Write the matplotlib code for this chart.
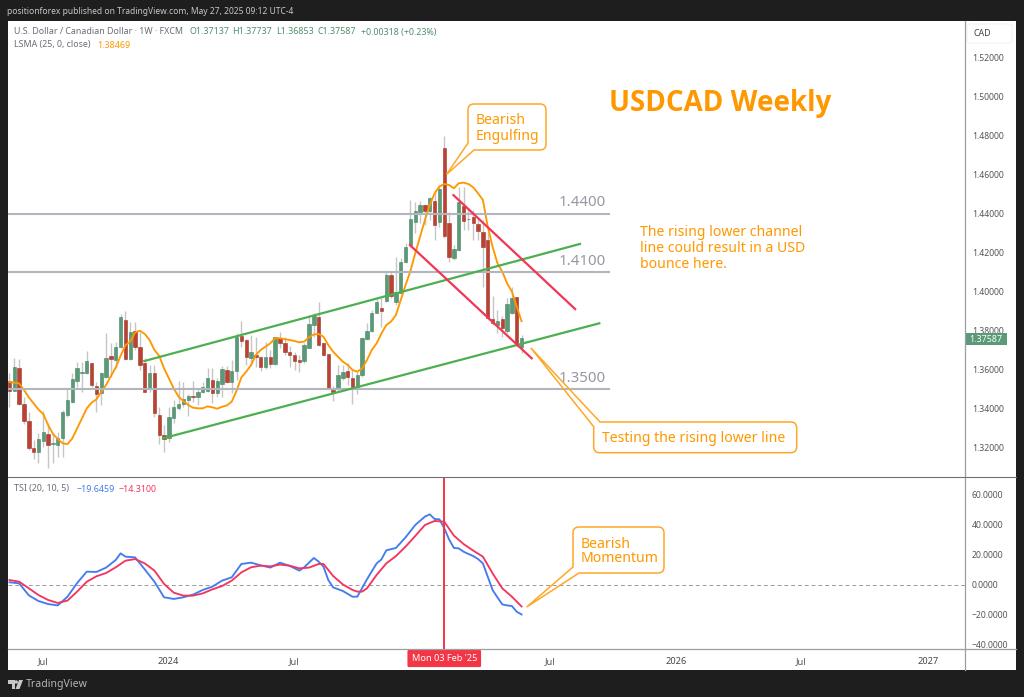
import matplotlib
matplotlib.use('Agg')
import matplotlib.pyplot as plt
from matplotlib.patches import PathPatch, Rectangle, FancyBboxPatch, Polygon, Circle
from matplotlib.path import Path

plt.rcParams['font.family'] = ['Noto Sans', 'DejaVu Sans']

#%% Weekly candles
opens = [1.3537,1.3489,1.3604,1.3419,1.3334,1.3195,1.3176,1.3232,1.3267,1.3214,
         1.3212,1.3248,1.3364,1.3429,1.3541,1.3582,1.3578,1.3630,1.3515,1.3476,
         1.3560,1.3668,1.3647,1.3712,1.3853,1.3650,1.3795,1.3714,1.3633,1.3501,
         1.3578,1.3366,1.3263,1.3244,1.3351,1.3400,1.3419,1.3441,1.3462,1.3459,
         1.3483,1.3489,1.3546,1.3479,1.3524,1.3596,1.3534,1.3589,1.3772,1.3750,
         1.3656,1.3673,1.3661,1.3610,1.3664,1.3627,1.3759,1.3733,1.3690,1.3671,
         1.3647,1.3642,1.3709,1.3829,1.3870,1.3733,1.3678,1.3491,1.3502,1.3555,
         1.3592,1.3553,1.3507,1.3570,1.3754,1.3798,1.3891,1.3915,1.3952,1.4084,
         1.3948,1.3994,1.4151,1.4239,1.4357,1.4410,1.4445,1.4415,1.4467,1.4359,
         1.4736,1.4354,1.4170,1.4213,1.4439,1.4374,1.4385,1.4347,1.4307,1.4265,
         1.3857,1.3828,1.3858,1.3797,1.3888,1.3970,1.37137]
highs = [1.3578,1.3656,1.3650,1.3459,1.3382,1.3236,1.3270,1.3387,1.3322,1.3270,
         1.3279,1.3390,1.3496,1.3578,1.3639,1.3639,1.3695,1.3633,1.3536,1.3587,
         1.3784,1.3733,1.3741,1.3884,1.3901,1.3844,1.3844,1.3793,1.3656,1.3621,
         1.3621,1.3407,1.3313,1.3407,1.3441,1.3541,1.3536,1.3472,1.3541,1.3501,
         1.3536,1.3604,1.3604,1.3553,1.3616,1.3616,1.3647,1.3784,1.3848,1.3753,
         1.3776,1.3767,1.3668,1.3742,1.3699,1.3767,1.3793,1.3767,1.3719,1.3690,
         1.3673,1.3733,1.3879,1.3887,1.3947,1.3742,1.3680,1.3514,1.3622,1.3622,
         1.3630,1.3596,1.3587,1.3767,1.3836,1.3904,1.3959,1.3964,1.4100,1.4100,
         1.4179,1.4170,1.4247,1.4470,1.4462,1.4467,1.4450,1.4487,1.4522,1.4547,
         1.4799,1.4410,1.4239,1.4539,1.4539,1.4427,1.4419,1.4376,1.4367,1.4299,
         1.3978,1.3905,1.3871,1.3965,1.4025,1.3973,1.37737]
lows = [1.3407,1.3489,1.3416,1.3318,1.3184,1.3136,1.3116,1.3202,1.3090,1.3116,
        1.3150,1.3150,1.3356,1.3424,1.3510,1.3484,1.3575,1.3507,1.3382,1.3416,
        1.3553,1.3561,1.3604,1.3707,1.3647,1.3647,1.3699,1.3596,1.3484,1.3484,
        1.3356,1.3215,1.3176,1.3227,1.3322,1.3390,1.3407,1.3359,1.3433,1.3416,
        1.3476,1.3484,1.3424,1.3459,1.3459,1.3527,1.3476,1.3544,1.3716,1.3621,
        1.3621,1.3613,1.3592,1.3599,1.3604,1.3622,1.3707,1.3673,1.3613,1.3596,
        1.3584,1.3630,1.3707,1.3767,1.3719,1.3668,1.3500,1.3438,1.3484,1.3544,
        1.3519,1.3421,1.3473,1.3562,1.3750,1.3793,1.3887,1.3819,1.3946,1.3966,
        1.3930,1.3990,1.4148,1.4230,1.4299,1.4350,1.4342,1.4367,1.4265,1.4333,
        1.4273,1.4153,1.4162,1.4210,1.4316,1.4316,1.4265,1.4265,1.4025,1.3853,
        1.3828,1.3785,1.3768,1.3785,1.3884,1.3716,1.36853]
closes = [1.3489,1.3609,1.3421,1.3334,1.3193,1.3176,1.3239,1.3277,1.3212,1.3222,
          1.3248,1.3380,1.3441,1.3549,1.3606,1.3587,1.3640,1.3519,1.3474,1.3578,
          1.3656,1.3654,1.3714,1.3868,1.3650,1.3789,1.3712,1.3621,1.3484,1.3578,
          1.3373,1.3262,1.3243,1.3354,1.3404,1.3421,1.3445,1.3462,1.3459,1.3483,
          1.3507,1.3555,1.3479,1.3537,1.3603,1.3534,1.3589,1.3767,1.3747,1.3664,
          1.3687,1.3663,1.3610,1.3661,1.3627,1.3764,1.3733,1.3690,1.3675,1.3640,
          1.3635,1.3726,1.3832,1.3874,1.3724,1.3673,1.3502,1.3483,1.3570,1.3584,
          1.3562,1.3510,1.3570,1.3759,1.3796,1.3891,1.3946,1.3901,1.4084,1.3975,
          1.3999,1.4153,1.4230,1.4371,1.4412,1.4445,1.4415,1.4479,1.4342,1.4525,
          1.4285,1.4179,1.4217,1.4460,1.4364,1.4371,1.4350,1.4313,1.4227,1.3862,
          1.3836,1.3850,1.3810,1.3934,1.3965,1.3725,1.37587]

#%% LSMA
lsma = [1.3534,1.3531,1.3527,1.3493,1.3455,1.3424,1.3393,1.3369,1.3313,1.3267,
        1.3241,1.3219,1.3215,1.3244,1.3296,1.3347,1.3399,1.3428,1.3445,1.3484,
        1.3519,1.3565,1.3609,1.3669,1.3724,1.3741,1.3789,1.3798,1.3781,1.3750,
        1.3699,1.3668,1.3604,1.3553,1.3501,1.3459,1.3436,1.3416,1.3402,1.3399,
        1.3399,1.3409,1.3404,1.3397,1.3407,1.3414,1.3433,1.3489,1.3558,1.3587,
        1.3621,1.3673,1.3699,1.3716,1.3733,1.3759,1.3759,1.3754,1.3750,1.3745,
        1.3738,1.3742,1.3764,1.3779,1.3781,1.3767,1.3724,1.3690,1.3664,1.3639,
        1.3622,1.3596,1.3587,1.3604,1.3647,1.3699,1.3733,1.3784,1.3827,1.3845,
        1.3879,1.3956,1.4033,1.4105,1.4196,1.4282,1.4367,1.4444,1.4504,1.4539,
        1.4552,1.4547,1.4530,1.4556,1.4559,1.4552,1.4535,1.4504,1.4470,1.4333,
        1.4230,1.4145,1.4102,1.4042,1.3999,1.3922,1.38469]

#%% TSI and signal
tsi_week = [0,2,4,6,8,10,12,14,16,18,20,22,23,24,26,28,30,32,34,36,38,40,42,44,46,48,50,52,54,56,58,60,
            61,62,63,64,65,66,67,69,71,72,74,76,77,78,80,82,84,86,87,88,89,90,91,92,93,94,95,96,97,98,
            99,100,101,102,103,104,105,106]
tsi_vals = [1.8,1.1,-6.9,-10.7,-12.7,-13.6,-7.8,1.3,8.9,8.7,11.6,16.7,21.1,18.9,18.4,10.4,2.2,-8.2,-9.3,-8.2,
            -6.4,-3.3,-1.1,2.9,5.1,14.0,14.9,13.1,11.6,14.9,12.7,9.6,
            11.8,14.9,18.0,15.6,12.2,3.3,-1.6,-4.0,-7.8,-7.8,3.8,14.4,17.1,23.1,24.7,31.8,40.0,45.6,47.1,44.0,
            43.8,37.8,30.4,24.7,24.4,22.2,20.7,19.3,17.3,14.4,5.6,-3.3,-8.2,-12.9,-13.6,-14.0,-17.8,-19.65]
sig_week = [0,2,4,6,8,10,12,14,16,18,20,22,24,26,28,30,32,34,36,38,40,42,44,46,48,50,52,54,56,58,60,
            62,64,65,66,67,69,71,72,73,74,76,78,80,82,84,86,88,90,92,94,96,98,100,102,104,106]
sig_vals = [3.3,2.2,-2.2,-6.7,-10.0,-12.0,-10.4,-4.4,2.2,5.8,8.0,11.8,16.2,17.3,14.4,9.6,0.7,-5.1,-7.1,-7.1,
            -5.6,-2.9,-0.7,2.9,8.4,11.8,12.9,12.4,13.6,12.9,11.1,
            11.6,14.0,14.0,10.0,6.0,0.4,-3.3,-4.4,-4.4,-2.2,6.7,14.4,19.3,25.6,32.7,40.0,42.7,42.2,32.9,27.3,
            22.9,18.9,7.8,-2.2,-7.8,-14.31]

#%% Drawn levels and trend lines
levels = [1.44, 1.41, 1.35]
level_names = ['1.4400', '1.4100', '1.3500']
level_end = 124.1
green_upper = ([27.9, 118.1], [1.3642, 1.4244])
green_lower = ([31.8, 122.1], [1.3245, 1.3836])
red_lower = ([82.9, 108.1], [1.4238, 1.3656])
red_upper = ([91.9, 117.1], [1.4495, 1.3909])

price_ticks = [1.32,1.34,1.36,1.38,1.40,1.42,1.44,1.46,1.48,1.50,1.52]
tsi_ticks = [-40,-20,0,20,40,60]
time_ticks = [6.94,32.8,58.9,111.9,138.0,163.9,190.2]
time_labels = ['Jul','2024','Jul','Jul','2026','Jul','2027']
cross_week = 90

orange = '#ff9800'
grey_txt = '#6a6d78'
up_col = '#5b9a78'
up_edge = '#46835f'
dn_col = '#bb4233'
dn_edge = '#a03427'
W, H = 1024, 697

fig = plt.figure(figsize=(W/100, H/100), dpi=100, facecolor='#1e1e1e')

def px_axes(x0, y0, x1, y1):
    return fig.add_axes([x0/W, 1-y1/H, (x1-x0)/W, (y1-y0)/H])

# white panel behind everything
fig.patches.append(Rectangle((8/W, 1-670/H), 1008/W, 649/H, transform=fig.transFigure, facecolor='white', edgecolor='none', zorder=-1))

ax = px_axes(8, 21, 965, 476)
ax2 = px_axes(8, 477, 965, 649)
for a in (ax, ax2):
    a.patch.set_alpha(0)
    for s in a.spines.values():
        s.set_visible(False)
    a.set_xlim(-0.31, 197.8)
    a.yaxis.tick_right()
    a.tick_params(axis='y', length=0, pad=5, labelsize=6.2, labelcolor='#555555')

#%% Price pane
ax.set_ylim(1.3051, 1.5390)
ax.set_yticks(price_ticks)
ax.set_yticklabels(['%.5f' % p for p in price_ticks])
ax.set_xticks([])

weeks = list(range(len(opens)))
body_col = [up_col if c >= o else dn_col for o, c in zip(opens, closes)]
edge_col = [up_edge if c >= o else dn_edge for o, c in zip(opens, closes)]
ax.vlines(weeks, lows, highs, color='#c6c6c6', lw=1.0, zorder=2)
ax.bar(weeks, [abs(c-o) for o, c in zip(opens, closes)], bottom=[min(o, c) for o, c in zip(opens, closes)],
       width=0.7, color=body_col, edgecolor=edge_col, lw=0.4, zorder=3)
ax.plot(weeks, lsma, color=orange, lw=1.35, zorder=4)

for lev, name in zip(levels, level_names):
    ax.plot([-0.31, level_end], [lev, lev], color='#b2b5be', lw=1.5, zorder=5)
    ax.text(113.7, lev+0.0016, name, color='#9598a1', fontsize=10.8, va='bottom', ha='left')

for tl in (green_upper, green_lower):
    ax.plot(tl[0], tl[1], color='#4caf50', lw=1.6, zorder=6)
for tl in (red_lower, red_upper):
    ax.plot(tl[0], tl[1], color='#f23654', lw=1.6, zorder=6)

#%% TSI pane
ax2.set_ylim(-42.67, 72)
ax2.set_yticks(tsi_ticks)
ax2.set_yticklabels([('%.4f' % t).replace('-', '\u2212') for t in tsi_ticks])
ax2.axhline(0, color='#9a9a9a', lw=0.7, ls=(0, (4, 3)))
ax2.plot(tsi_week, tsi_vals, color='#447cf0', lw=1.35, zorder=3)
ax2.plot(sig_week, sig_vals, color='#f23660', lw=1.35, zorder=4)
ax2.axvline(cross_week, color='#f23645', lw=1.4, zorder=5)
ax2.set_xticks(time_ticks)
ax2.set_xticklabels(time_labels)
ax2.tick_params(axis='x', length=0, pad=5.5, labelsize=6.6, labelcolor='#555555')
for lab in ax2.get_xticklabels():
    if lab.get_text().startswith('20'):
        lab.set_fontweight('bold')
        lab.set_color('#444444')
ax2.text(cross_week, -0.055, "Mon 03 Feb '25", transform=ax2.get_xaxis_transform(), color='white', fontsize=6.6,
         ha='center', va='center', bbox=dict(boxstyle='round,pad=0.45,rounding_size=0.15', fc='#f23645', ec='none'), zorder=8)

#%% Overlay in pixels for panel lines, notes and header text
ov = fig.add_axes([0, 0, 1, 1], zorder=10)
ov.set_xlim(0, W)
ov.set_ylim(H, 0)
ov.axis('off')

ov.plot([965, 965], [21, 670], color='#9c9ea6', lw=0.9)
ov.plot([8, 1016], [476.5, 476.5], color='#6f7178', lw=0.8)
ov.plot([8, 1016], [649, 649], color='#9c9ea6', lw=0.9)

def callout(x0, y0, x1, y1, corner, tip, a_y, b_x, r=6):
    # rounded box whose corner is replaced by a tail, corner is 'TL' or 'BL'
    v = []
    c = []
    if corner == 'TL':
        v += [(x0, a_y), tip, (b_x, y0)]
        c += [Path.MOVETO, Path.LINETO, Path.LINETO]
    else:
        v += [(x0, y0+r), (x0, y0), (x0+r, y0)]
        c += [Path.MOVETO, Path.CURVE3, Path.CURVE3]
    v += [(x1-r, y0), (x1, y0), (x1, y0+r), (x1, y1-r), (x1, y1), (x1-r, y1)]
    c += [Path.LINETO, Path.CURVE3, Path.CURVE3, Path.LINETO, Path.CURVE3, Path.CURVE3]
    if corner == 'BL':
        v += [(b_x, y1), tip, (x0, a_y)]
        c += [Path.LINETO, Path.LINETO, Path.LINETO]
    else:
        v += [(x0+r, y1), (x0, y1), (x0, y1-r)]
        c += [Path.LINETO, Path.CURVE3, Path.CURVE3]
    v.append(v[0])
    c.append(Path.CLOSEPOLY)
    ov.add_patch(PathPatch(Path(v, c), fc='none', ec='#ffa726', lw=1.1))

callout(468, 104, 546, 150, 'BL', (446.5, 174.5), 143, 474)
callout(593.7, 422, 796.7, 452.7, 'TL', (530.7, 347.7), 426.7, 600)
callout(573, 527, 664, 573, 'BL', (526.7, 607), 567, 579)

note = dict(color=orange, fontsize=10.1, va='center', ha='left')
ov.text(476, 120, 'Bearish', **note)
ov.text(476, 136, 'Engulfing', **note)
ov.text(601.5, 438, 'Testing the rising lower line', **note)
ov.text(581, 544, 'Bearish', **note)
ov.text(581, 559, 'Momentum', **note)
ov.text(640, 233, 'The rising lower channel', **note)
ov.text(640, 249, 'line could result in a USD', **note)
ov.text(640, 264, 'bounce here.', **note)
ov.text(609, 103.5, 'USDCAD Weekly', color=orange, fontsize=20, fontweight='bold', family='Open Sans', va='center', ha='left')

ov.text(7, 12, 'positionforex published on TradingView.com, May 27, 2025 09:12 UTC-4', color='#c8c8c8', fontsize=6.1, va='center')
ov.text(14, 32, 'U.S. Dollar / Canadian Dollar \u00b7 1W \u00b7 FXCM', color=grey_txt, fontsize=6.4, va='center')
for xp, s in zip([189, 232, 276, 318, 361], ['O1.37137', 'H1.37737', 'L1.36853', 'C1.37587', '+0.00318 (+0.23%)']):
    ov.text(xp, 32, s, color='#4f8f6d', fontsize=6.4, va='center')
ov.text(14, 45, 'LSMA (25, 0, close)', color=grey_txt, fontsize=6.4, va='center')
ov.text(97, 45, '1.38469', color=orange, fontsize=6.4, va='center')
ov.text(14, 489, 'TSI (20, 10, 5)', color=grey_txt, fontsize=6.4, va='center')
ov.text(77, 489, '\u221219.6459', color='#447cf0', fontsize=6.4, va='center')
ov.text(119, 489, '\u221214.3100', color='#f23660', fontsize=6.4, va='center')

ov.add_patch(FancyBboxPatch((967, 24), 45, 19, boxstyle='round,pad=0,rounding_size=3', fc='white', ec='#f0f1f4', lw=0.7))
ov.text(974, 33, 'CAD', color='#444444', fontsize=6.4, va='center')

# last price tag
ov.add_patch(Rectangle((965, 332.5), 42, 12.5, fc='#5b9a78', ec='none'))
ov.text(986, 339, '1.37587', color='white', fontsize=6.4, ha='center', va='center')

# TradingView mark
ov.add_patch(Polygon([(8, 680), (15, 680), (15, 689), (11.5, 689), (11.5, 683.5), (8, 683.5)], fc='#c8c8c8', ec='none'))
ov.add_patch(Circle((16.3, 682), 1.7, fc='#c8c8c8', ec='none'))
ov.add_patch(Polygon([(19, 680), (23, 680), (19.5, 689), (15.5, 689)], fc='#c8c8c8', ec='none'))
ov.text(26, 684.5, 'TradingView', color='#b5b5b5', fontsize=7.6, va='center')

fig.savefig('out.png', dpi=100, facecolor=fig.get_facecolor())
